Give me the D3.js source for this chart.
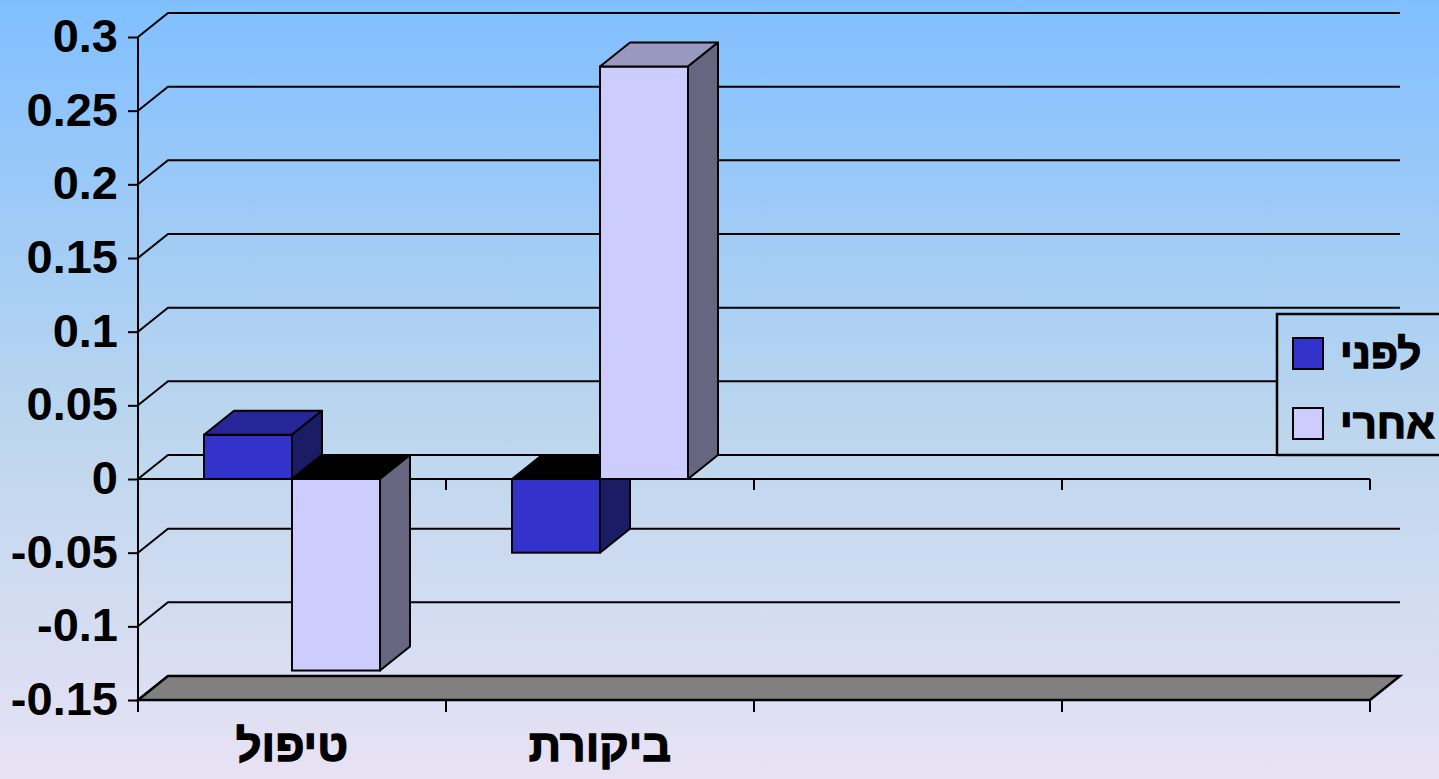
<!DOCTYPE html>
<html>
<head>
<meta charset="utf-8">
<script src="https://cdn.jsdelivr.net/npm/d3@7"></script>
<style>
html,body{margin:0;padding:0;overflow:hidden;}
svg{display:block;}
</style>
</head>
<body>
<svg id="chart" width="1439" height="779"></svg>
<script>
const categories = ["טיפול", "ביקורת", "", ""];
const seriesNames = ["לפני", "אחרי"];
const seriesValues = [
  [0.03, -0.05],   // לפני
  [-0.13, 0.28]    // אחרי
];
const yTicks = [-0.15, -0.1, -0.05, 0, 0.05, 0.1, 0.15, 0.2, 0.25, 0.3];
const yTickLabels = ["-0.15", "-0.1", "-0.05", "0", "0.05", "0.1", "0.15", "0.2", "0.25", "0.3"];

const frontColors = ["#3333cc", "#ccccff"];
const topColors = ["#262699", "#9999bf"];
const sideColors = ["#1c1c66", "#666680"];

(function () {
const W = 1439, H = 779;
const pLeft = 138, pRight = 1370, pTop = 37, pBottom = 700;
const dx = 30, dy = 24;

const svg = d3.select("#chart");
const defs = svg.append("defs");
const grad = defs.append("linearGradient").attr("id", "bg")
  .attr("gradientUnits", "userSpaceOnUse")
  .attr("x1", 0).attr("y1", 0).attr("x2", 0).attr("y2", H);
grad.append("stop").attr("offset", "0%").attr("stop-color", "#80bfff");
grad.append("stop").attr("offset", "55%").attr("stop-color", "#bcd6ee");
grad.append("stop").attr("offset", "100%").attr("stop-color", "#e8e2f4");

svg.append("rect").attr("width", W).attr("height", H).attr("fill", "url(#bg)");

const y = d3.scaleLinear().domain([-0.15, 0.3]).range([pBottom, pTop]);
const x0 = d3.scaleBand().domain(d3.range(categories.length)).range([pLeft, pRight]).paddingInner(0).paddingOuter(0);
const x1 = d3.scaleBand().domain(d3.range(seriesNames.length)).range([0, x0.bandwidth()]).paddingInner(0).paddingOuter(0.75);

const g = svg.append("g");

yTicks.forEach(t => {
  const yy = y(t);
  g.append("path")
    .attr("d", `M${pLeft},${yy}L${pLeft + dx},${yy - dy}L${pRight + dx},${yy - dy}`)
    .attr("fill", "none").attr("stroke", "#000").attr("stroke-width", 2);
});

const yb = y(-0.15);
g.append("path")
  .attr("d", `M${pLeft},${yb}L${pLeft + dx},${yb - dy}L${pRight + dx},${yb - dy}L${pRight},${yb}Z`)
  .attr("fill", "#808080").attr("stroke", "#000").attr("stroke-width", 2.5).attr("stroke-linejoin", "miter");

const yAxisG = g.append("g").attr("transform", `translate(${pLeft},0)`);
yAxisG.call(d3.axisLeft(y).tickValues(yTicks).tickSize(10).tickFormat(() => ""));
yAxisG.select(".domain").attr("d", `M0,${y(0.3)}V${y(-0.15) + 12}`).attr("stroke-width", 2);
yAxisG.selectAll(".tick line").attr("stroke-width", 2);

yTicks.forEach((t, i) => {
  g.append("text")
    .attr("x", 118).attr("y", y(t) + 15)
    .attr("text-anchor", "end")
    .attr("font-family", "Liberation Sans, Arial, sans-serif")
    .attr("font-weight", "bold").attr("font-size", 47)
    .attr("fill", "#000")
    .text(yTickLabels[i]);
});

const y0 = y(0);
g.append("line").attr("x1", pLeft).attr("x2", pRight).attr("y1", y0).attr("y2", y0)
  .attr("stroke", "#000").attr("stroke-width", 2);
const boundaries = d3.range(categories.length + 1).map(i => i < categories.length ? x0(i) : pRight);
boundaries.forEach(bx => {
  g.append("line").attr("x1", bx).attr("x2", bx).attr("y1", y0).attr("y2", y0 + 11)
    .attr("stroke", "#000").attr("stroke-width", 2);
  g.append("line").attr("x1", bx).attr("x2", bx).attr("y1", yb).attr("y2", yb + 12)
    .attr("stroke", "#000").attr("stroke-width", 2);
});

categories.forEach((c, ci) => {
  seriesNames.forEach((s, si) => {
    const v = seriesValues[si][ci];
    if (v === undefined || v === null) return;
    const bx = x0(ci) + x1(si);
    const w = x1.bandwidth();
    const yT = y(Math.max(v, 0));
    const yB = y(Math.min(v, 0));
    const bg = g.append("g");
    bg.append("rect").attr("x", bx).attr("y", yT).attr("width", w).attr("height", yB - yT)
      .attr("fill", frontColors[si]).attr("stroke", "#000").attr("stroke-width", 2);
    bg.append("path")
      .attr("d", `M${bx},${yT}L${bx + dx},${yT - dy}L${bx + w + dx},${yT - dy}L${bx + w},${yT}Z`)
      .attr("fill", v >= 0 ? topColors[si] : "#000").attr("stroke", "#000").attr("stroke-width", 2).attr("stroke-linejoin", "round");
    bg.append("path")
      .attr("d", `M${bx + w},${yT}L${bx + w + dx},${yT - dy}L${bx + w + dx},${yB - dy}L${bx + w},${yB}Z`)
      .attr("fill", sideColors[si]).attr("stroke", "#000").attr("stroke-width", 2).attr("stroke-linejoin", "round");
  });
});

categories.forEach((c, ci) => {
  if (!c) return;
  g.append("text")
    .attr("x", x0(ci) + x0.bandwidth() / 2).attr("y", 761)
    .attr("text-anchor", "middle")
    .attr("font-family", "Liberation Sans, Arial, sans-serif")
    .attr("font-weight", "bold").attr("font-size", 45)
    .attr("fill", "#000").attr("stroke", "#000").attr("stroke-width", 1.3)
    .text(c);
});

const lg = svg.append("g");
lg.append("rect").attr("x", 1277).attr("y", 314).attr("width", 180).attr("height", 141)
  .attr("fill", "url(#bg)").attr("stroke", "#000").attr("stroke-width", 2.5);
seriesNames.forEach((s, i) => {
  const ly = 338 + i * 70;
  lg.append("rect").attr("x", 1293).attr("y", ly).attr("width", 30).attr("height", 31)
    .attr("fill", frontColors[i]).attr("stroke", "#000").attr("stroke-width", 2);
  lg.append("text").attr("x", 1340).attr("y", ly + 30)
    .attr("text-anchor", "start")
    .attr("font-family", "Liberation Sans, Arial, sans-serif")
    .attr("font-weight", "bold").attr("font-size", 42)
    .attr("fill", "#000").attr("stroke", "#000").attr("stroke-width", 1.3)
    .text(s);
});
})();
</script>
</body>
</html>
